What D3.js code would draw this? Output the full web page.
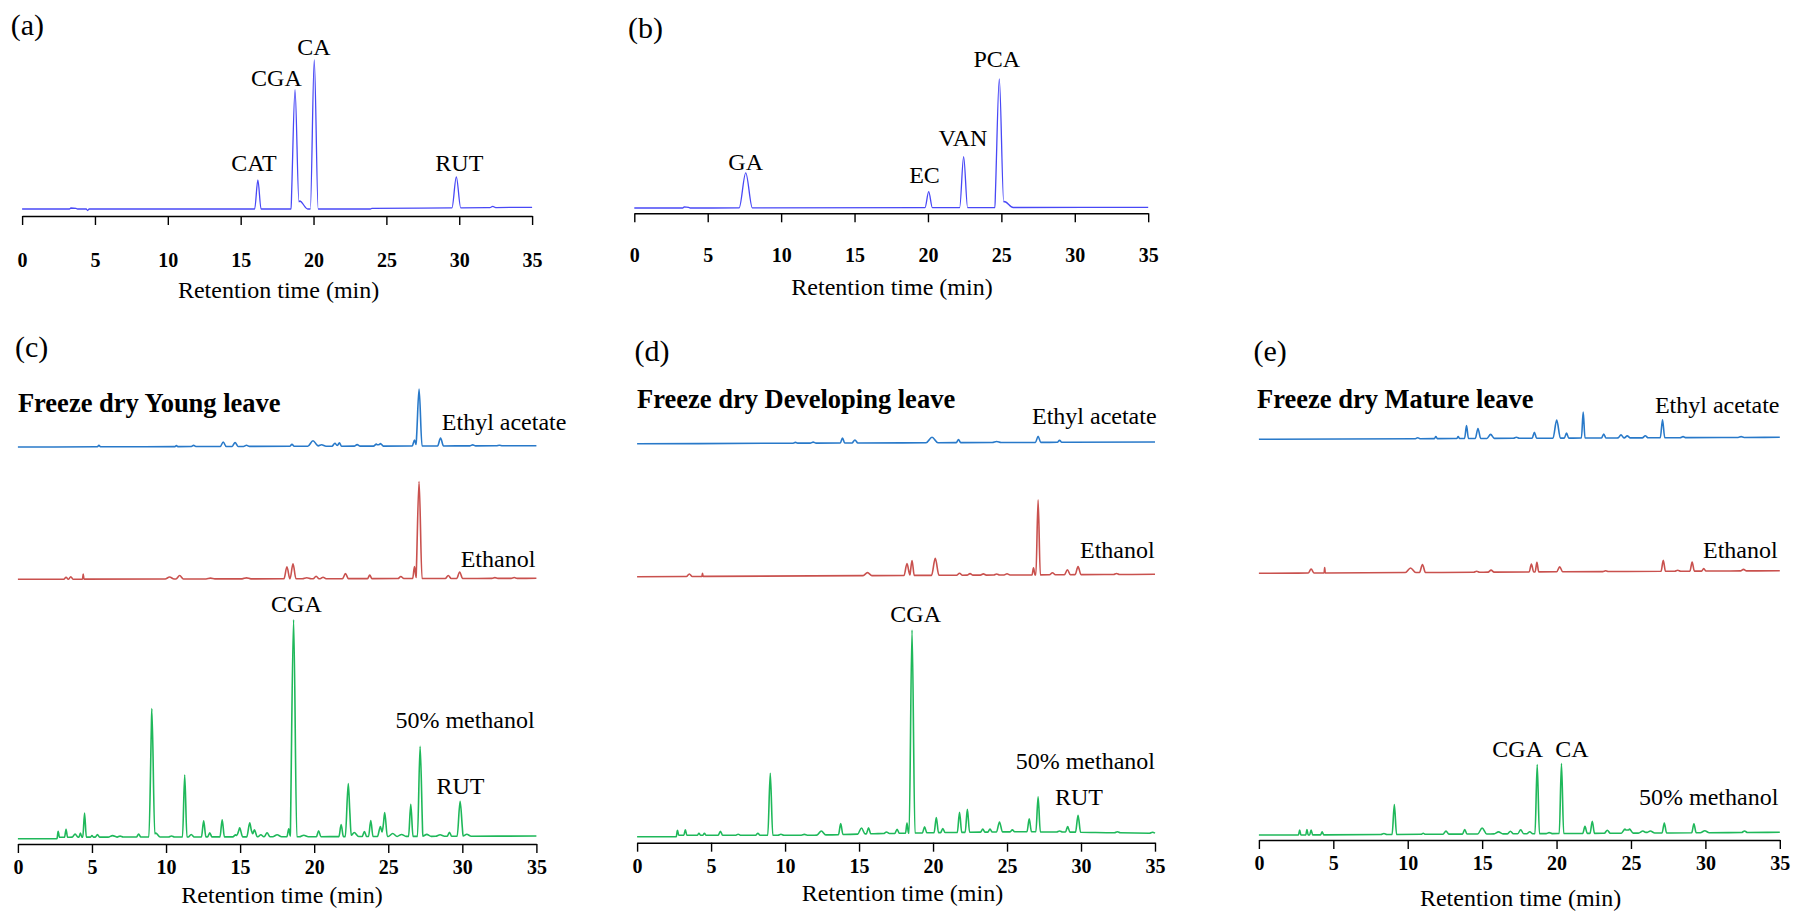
<!DOCTYPE html>
<html><head><meta charset="utf-8">
<script src="https://cdn.jsdelivr.net/npm/d3@7"></script>
<style>
body{margin:0;background:#fff}
svg{display:block}
text{font-family:"Liberation Serif","Times New Roman",serif;fill:#000}
</style>
</head><body><svg id="chart" width="1796" height="912"></svg>
<script>
// ---------------- DATA ----------------
const timeTicks = [0, 5, 10, 15, 20, 25, 30, 35];
const timeDomain = [0, 35];
const axisTitle = "Retention time (min)";
const panelLetters = ["(a)", "(b)", "(c)", "(d)", "(e)"];
const sampleTitles = ["Freeze dry Young leave", "Freeze dry Developing leave", "Freeze dry Mature leave"];
const solventNames = ["Ethyl acetate", "Ethanol", "50% methanol"];
const stdA_names = ["CAT", "CGA", "CA", "RUT"];
const stdB_names = ["GA", "EC", "VAN", "PCA"];
const youngPeakNames = ["CGA", "RUT"];
const developingPeakNames = ["CGA", "RUT"];
const maturePeakNames = ["CGA", "CA"];

// peaks: [retention time (min), height (a.u.), half base width (min)]
// baselines: [retention time (min), level (a.u.)]
const stdA_baseline = [[0,0],[3.25,0],[3.35,1],[3.7,0.6],[3.8,0],[4.4,0],[4.5,-1.5],[4.6,0],[23.9,0],[24,0.6],[35,1.7]];
const stdA_peaks = [[16.18,29,0.22],[18.73,116,0.27],[19.05,8,0.55],[20.05,149,0.27],[29.8,31,0.3],[32.3,1.2,0.2]];

const stdB_baseline = [[0,0],[3.3,0],[3.4,1.2],[3.7,0.6],[3.8,0],[35,0.7]];
const stdB_peaks = [[7.59,35,0.45],[20.05,16,0.25],[22.43,51,0.27],[24.86,126,0.3],[25.2,6,0.6]];

const youngEA_baseline = [[0,0],[35,1.3]];
const youngEA_peaks = [[5.47,1.5,0.1],[10.7,1,0.1],[11.86,1.2,0.15],[13.86,4.5,0.2],[14.66,4,0.2],[15.43,1.2,0.2],[18.5,2,0.15],[19.92,5.5,0.35],[20.5,1.5,0.3],[21.4,3,0.2],[21.7,3.5,0.15],[22.9,1.5,0.2],[24.2,2,0.2],[24.47,2.5,0.2],[26.77,6,0.15],[27.08,57,0.2],[28.53,8,0.2],[30.7,1,0.2],[32.5,0.5,0.2]];
const youngEt_baseline = [[0,0],[35,1]];
const youngEt_peaks = [[3.25,2,0.15],[3.57,2.5,0.15],[4.41,5,0.05],[10.24,2,0.3],[10.92,3.5,0.25],[13,0.8,0.3],[15.43,1,0.3],[18.16,12,0.2],[18.57,15,0.2],[19.5,1,0.3],[20.13,2.5,0.2],[20.6,1.5,0.2],[22.11,5,0.2],[23.75,3.5,0.15],[25.85,2,0.2],[26.77,12,0.12],[27.08,97,0.2],[29.05,3,0.2],[29.82,6.5,0.2],[32.2,0.8,0.2],[33.5,0.8,0.2]];
const youngMe_baseline = [[0,0],[2.65,0],[2.7,1.5],[20,2],[35,2.7]];
const youngMe_peaks = [[2.72,6,0.08],[3.25,8,0.1],[3.86,3,0.2],[4.22,4,0.1],[4.5,24,0.12],[5.0,1.5,0.1],[5.37,2.5,0.15],[6.39,1.5,0.3],[6.9,1,0.2],[8.15,3,0.15],[9.04,128,0.2],[9.3,4,0.3],[10.37,1,0.2],[11.26,62,0.15],[11.7,2.5,0.2],[12.54,16,0.15],[12.95,4,0.15],[13.79,17,0.15],[14.7,2,0.2],[14.97,9,0.2],[15.65,14,0.2],[15.96,7,0.2],[16.4,2,0.2],[16.82,4,0.2],[17.5,2,0.3],[18.28,8,0.12],[18.61,217,0.22],[19.3,1.5,0.3],[20.3,6,0.15],[21.82,12,0.15],[22.3,53,0.2],[22.7,4,0.3],[23.39,5,0.15],[23.82,16,0.15],[24.47,10,0.2],[24.76,24,0.18],[25.3,3,0.3],[25.9,2,0.3],[26.52,32,0.15],[27.15,90,0.18],[27.6,2,0.3],[28.5,1.5,0.3],[29.13,4,0.15],[29.85,35,0.2],[30.3,2,0.3]];

const devEA_baseline = [[0,0],[35,1.7]];
const devEA_peaks = [[10.7,0.8,0.15],[11.9,1,0.2],[13.88,5,0.15],[14.72,3,0.2],[19.93,5.5,0.4],[21.72,3,0.15],[24.3,1,0.3],[27.1,6,0.18],[28.55,2,0.15]];
const devEt_baseline = [[0,0],[35,2.4]];
const devEt_peaks = [[3.53,2.5,0.2],[4.42,3,0.04],[15.57,3,0.3],[18.24,12,0.2],[18.58,15,0.15],[20.15,17,0.25],[21.79,2,0.2],[22.5,1.5,0.2],[23.4,1.2,0.2],[24.3,1,0.2],[25.0,1.2,0.2],[26.79,7,0.1],[27.1,75,0.15],[28.07,2,0.2],[29.08,5,0.2],[29.8,8,0.2],[32.4,1,0.2]];
const devMe_baseline = [[0,0],[2.65,0],[2.7,1.5],[9,1.5],[12,1.5],[16,3],[20,4],[26,5],[30,4.5],[35,3.4]];
const devMe_peaks = [[2.73,5,0.08],[3.26,5.5,0.1],[4.18,2,0.1],[4.55,2,0.1],[5.63,4,0.15],[6.83,1,0.15],[8.16,2,0.15],[9.0,62,0.17],[9.72,1,0.2],[11.3,0.8,0.2],[12.45,4,0.3],[13.76,11,0.15],[15.16,6,0.25],[15.64,6,0.15],[16.85,1.5,0.2],[17.57,4,0.15],[18.24,10,0.1],[18.58,203,0.2],[19.43,6,0.15],[20.22,15,0.15],[20.66,4,0.15],[21.79,20,0.15],[22.32,23,0.15],[23.36,3,0.15],[23.85,3,0.15],[24.49,10,0.2],[25.36,2,0.15],[26.5,13,0.15],[27.1,35,0.15],[28.55,1,0.2],[29.1,5.5,0.15],[29.8,17,0.17],[32.46,1,0.2],[34.83,1,0.2]];

const matEA_baseline = [[0,0],[35,2]];
const matEA_peaks = [[10.67,1,0.15],[11.89,2,0.1],[13.39,2,0.1],[13.95,13,0.13],[14.72,10,0.18],[15.57,4,0.25],[17.3,1,0.2],[18.51,6,0.15],[20.01,18,0.25],[20.67,5,0.15],[21.79,26,0.12],[23.17,4,0.15],[24.33,3,0.2],[24.75,2,0.2],[25.96,2,0.2],[27.12,18,0.15],[28.5,1,0.2],[32.4,0.8,0.2]];
const matEt_baseline = [[0,0],[35,2.6]];
const matEt_peaks = [[3.51,4,0.2],[4.42,5.5,0.04],[10.19,4.5,0.35],[10.99,8,0.2],[14.63,1,0.2],[15.6,2,0.2],[18.31,8,0.15],[18.68,9.5,0.12],[20.21,5,0.2],[23.3,0.8,0.2],[27.17,11,0.15],[28.14,1,0.2],[29.11,9,0.15],[29.89,2.5,0.15],[32.56,1.5,0.2]];
const matMe_baseline = [[0,0],[2.65,0],[35,2.7]];
const matMe_peaks = [[2.74,5,0.08],[3.23,5.5,0.08],[3.51,5,0.1],[4.25,3,0.1],[8.4,1,0.2],[9.1,30,0.15],[11.04,1,0.15],[12.57,3,0.2],[13.83,4.5,0.15],[15.0,6,0.3],[16.1,2,0.3],[16.9,2.5,0.2],[17.59,4,0.2],[18.2,2,0.2],[18.7,69,0.15],[19.5,1,0.2],[20.33,70,0.15],[21.91,7,0.15],[22.4,12,0.15],[23.41,3,0.2],[24.6,4,0.25],[24.9,4,0.25],[25.8,2,0.3],[26.3,2,0.3],[27.24,10,0.15],[29.23,9,0.15],[29.96,2,0.3],[32.63,1.5,0.2]];

// ---------------- STYLE / LAYOUT ----------------
const COLORS = {std: "#4848f6", ea: "#2879c9", et: "#c9514e", me: "#1fb85a"};
const svg = d3.select("#chart");

const panels = [
  {x0: 22.1, x1: 532.1, axisY: 216, tickBase: 266.5, titleBase: 297.5, titleX: 278.6, letter: [10.7, 35]},
  {x0: 634.3, x1: 1148.2, axisY: 213.3, tickBase: 261.6, titleBase: 295, titleX: 892, letter: [628, 37.5]},
  {x0: 17.9, x1: 536.4, axisY: 844, tickBase: 873.6, titleBase: 903, titleX: 282, letter: [15, 356.5]},
  {x0: 637.1, x1: 1155, axisY: 842.7, tickBase: 873.3, titleBase: 901, titleX: 902.5, letter: [634.6, 360.5]},
  {x0: 1258.9, x1: 1779.8, axisY: 840, tickBase: 869.6, titleBase: 905.5, titleX: 1520.6, letter: [1253.5, 360.5]}
];
panels.forEach(p => { p.x = d3.scaleLinear().domain(timeDomain).range([p.x0, p.x1]); });

function buildTrace(baseline, peaks) {
  const ts = new Set([timeDomain[0], timeDomain[1]]);
  baseline.forEach(d => ts.add(d[0]));
  peaks.forEach(([t, h, w]) => { ts.add(+(t - w).toFixed(4)); ts.add(t); ts.add(+(t + w).toFixed(4)); });
  const times = Array.from(ts).filter(t => t >= timeDomain[0] && t <= timeDomain[1]).sort((a, b) => a - b);
  const base = d3.scaleLinear().domain(baseline.map(d => d[0])).range(baseline.map(d => d[1])).clamp(true);
  return times.map(t => [t, base(t) + d3.sum(peaks, ([pt, h, w]) => Math.max(0, 1 - Math.abs(t - pt) / w) * h)]);
}

const traces = [
  {p: 0, by: 209, base: stdA_baseline, peaks: stdA_peaks, color: COLORS.std, w: 1.3},
  {p: 1, by: 208, base: stdB_baseline, peaks: stdB_peaks, color: COLORS.std, w: 1.3},
  {p: 2, by: 447, base: youngEA_baseline, peaks: youngEA_peaks, color: COLORS.ea, w: 1.6},
  {p: 2, by: 579.3, base: youngEt_baseline, peaks: youngEt_peaks, color: COLORS.et, w: 1.6},
  {p: 2, by: 838.7, base: youngMe_baseline, peaks: youngMe_peaks, color: COLORS.me, w: 1.6},
  {p: 3, by: 443.7, base: devEA_baseline, peaks: devEA_peaks, color: COLORS.ea, w: 1.6},
  {p: 3, by: 576.7, base: devEt_baseline, peaks: devEt_peaks, color: COLORS.et, w: 1.6},
  {p: 3, by: 836.7, base: devMe_baseline, peaks: devMe_peaks, color: COLORS.me, w: 1.6},
  {p: 4, by: 439.3, base: matEA_baseline, peaks: matEA_peaks, color: COLORS.ea, w: 1.6},
  {p: 4, by: 573.3, base: matEt_baseline, peaks: matEt_peaks, color: COLORS.et, w: 1.6},
  {p: 4, by: 835, base: matMe_baseline, peaks: matMe_peaks, color: COLORS.me, w: 1.6}
];

traces.forEach(tr => {
  const p = panels[tr.p];
  const y = d3.scaleLinear().domain([0, 100]).range([tr.by, tr.by - 100]);
  const line = d3.line().x(d => p.x(d[0])).y(d => y(d[1])).curve(d3.curveMonotoneX);
  svg.append("path").datum(buildTrace(tr.base, tr.peaks))
    .attr("d", line).attr("fill", "none").attr("stroke", tr.color)
    .attr("stroke-width", tr.w).attr("stroke-linejoin", "round");
});

// axes
panels.forEach((p, i) => {
  const g = svg.append("g").attr("transform", `translate(0,${p.axisY})`)
    .call(d3.axisBottom(p.x).tickValues(timeTicks).tickSize(9).tickSizeOuter(0).tickFormat(d3.format("d")));
  g.select(".domain").attr("stroke", "#000").attr("stroke-width", 1.4);
  g.selectAll(".tick line").attr("stroke", "#000").attr("stroke-width", 1.4);
  g.selectAll(".tick text").attr("y", p.tickBase - p.axisY).attr("dy", 0)
    .style("font-family", '"Liberation Serif","Times New Roman",serif')
    .style("font-size", "20px").style("font-weight", "bold").attr("fill", "#000");
  svg.append("text").attr("x", p.titleX).attr("y", p.titleBase).attr("text-anchor", "middle")
    .style("font-size", "24px").text(axisTitle);
  svg.append("text").attr("x", p.letter[0]).attr("y", p.letter[1])
    .style("font-size", "30px").text(panelLetters[i]);
});

// sample titles
const titlePos = [[17.9, 411.7], [637, 408.3], [1257, 408.3]];
sampleTitles.forEach((t, i) => {
  svg.append("text").attr("x", titlePos[i][0]).attr("y", titlePos[i][1])
    .style("font-size", "26.5px").style("font-weight", "bold").text(t);
});

// solvent labels
const solventPos = [
  [[441.8, 430], [460.7, 567.3], [395.4, 727.7]],
  [[1032, 424], [1080, 558.3], [1015.7, 769.3]],
  [[1654.9, 413.3], [1703, 558.3], [1639, 805]]
];
solventPos.forEach(arr => arr.forEach((pos, j) => {
  svg.append("text").attr("x", pos[0]).attr("y", pos[1]).style("font-size", "24px")
    .attr("xml:space", "preserve").text(solventNames[j]);
}));

// peak labels
const peakLabelSets = [
  [stdA_names, [[254, 171], [276.4, 86], [314, 55], [459.3, 171]]],
  [stdB_names, [[745.7, 170], [924.5, 183.3], [963, 145.7], [996.8, 66.7]]],
  [youngPeakNames, [[296.4, 611.7], [460.5, 794.3]]],
  [developingPeakNames, [[915.7, 622], [1079, 805]]],
  [maturePeakNames, [[1517.7, 756.7], [1572, 756.7]]]
];
peakLabelSets.forEach(([names, pos]) => names.forEach((n, k) => {
  svg.append("text").attr("x", pos[k][0]).attr("y", pos[k][1]).attr("text-anchor", "middle")
    .style("font-size", "24px").text(n);
}));
</script>
</body></html>
